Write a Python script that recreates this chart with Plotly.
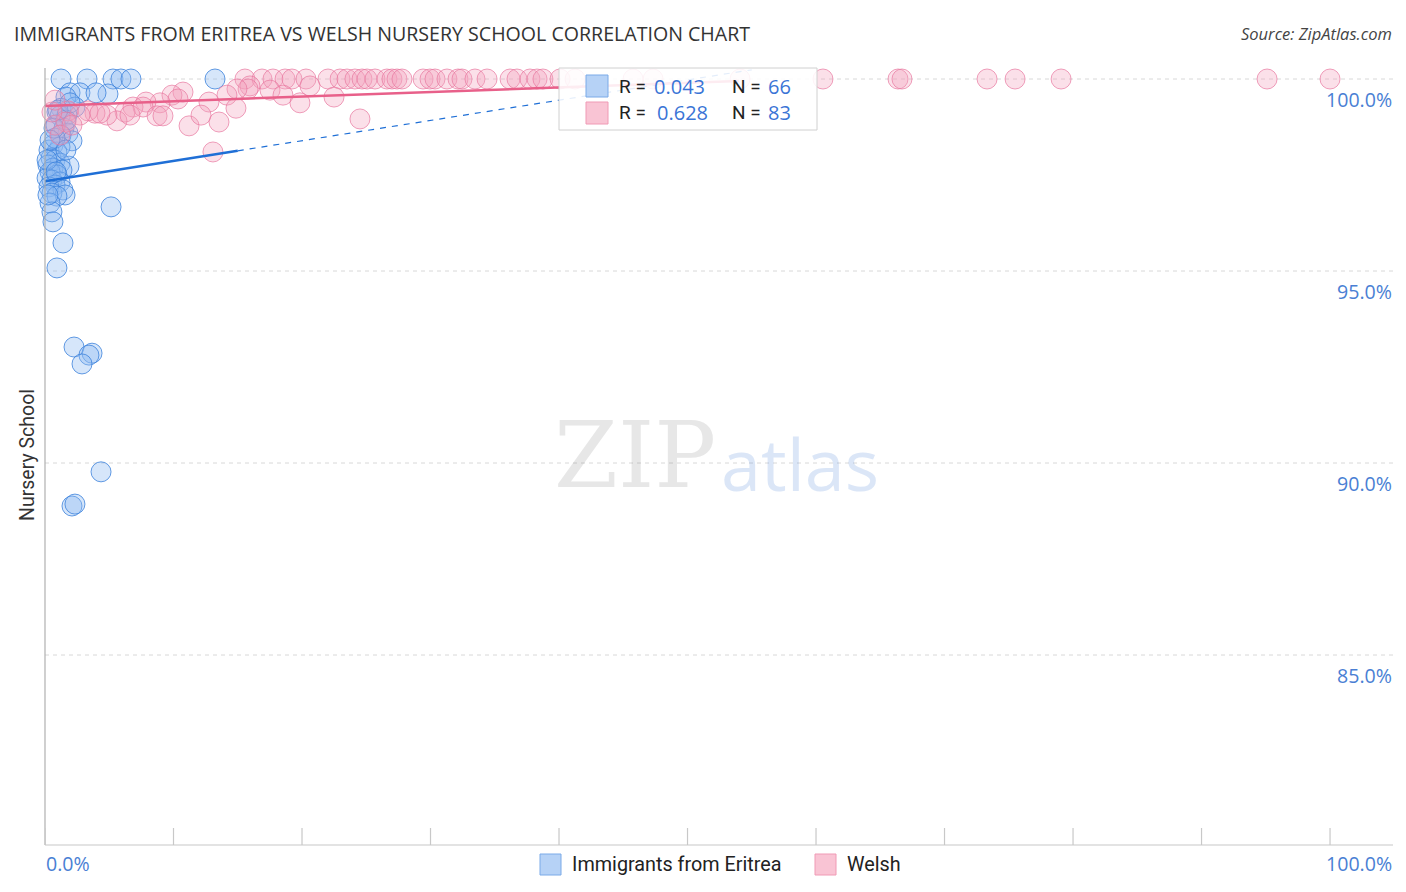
import plotly.graph_objects as go

# ---------------- data ----------------
blue_x = [1.25, 3.27, 5.29, 5.91, 6.69, 13.23, 1.95, 2.72, 1.63, 4.9, 3.97, 2.33, 1.25, 0.93, 1.17,
          1.71, 0.86, 1.48, 1.79, 1.25, 2.1, 0.62, 1.17, 0.31, 0.93, 0.47, 0.78, 1.17, 1.87, 0.23,
          0.62, 1.32, 0.39, 0.93, 0.16, 0.54, 1.17, 0.78, 0.31, 1.4, 0.54, 1.56, 0.93, 0.39, 0.54,
          0.62, 5.14, 1.4, 0.93, 2.26, 3.66, 3.42, 2.88, 4.36, 2.1, 2.33, 1.63, 1.01, 0.16, 0.78,
          0.23, 0.86, 1.95, 0.7, 0.39, 1.63]
blue_y = [100.0, 100.0, 100.0, 100.0, 100.0, 100.0, 99.64, 99.64, 99.53, 99.61, 99.64, 99.27, 99.24,
          99.14, 99.04, 99.06, 98.8, 98.72, 98.59, 98.54, 98.39, 98.28, 98.23, 98.15, 98.1, 97.94,
          97.89, 97.81, 97.73, 97.76, 97.68, 97.63, 97.58, 97.5, 97.42, 97.37, 97.32, 97.24, 97.19,
          97.11, 97.03, 96.98, 96.95, 96.77, 96.54, 96.28, 96.67, 95.73, 95.08, 93.02, 92.86, 92.81,
          92.58, 89.77, 88.88, 88.93, 98.93, 99.19, 97.89, 98.46, 96.98, 97.58, 99.38, 98.72, 98.41,
          98.15]

pink_x = [15.56, 16.89, 17.74, 18.68, 19.22, 20.31, 22.02, 22.96, 23.5, 24.12, 24.67, 25.06, 25.68,
          26.61, 27.0, 27.39, 27.78, 29.42, 29.96, 30.35, 31.28, 32.14, 32.45, 33.46, 34.4, 36.19,
          36.73, 37.74, 38.29, 38.75, 40.08, 41.25, 45.76, 47.32, 54.09, 60.54, 66.38, 66.69, 73.31,
          75.49, 79.07, 95.1, 100.0,
          15.95, 15.8, 14.94, 14.16, 17.51, 18.52, 19.84, 20.62, 22.49, 24.51, 12.76, 14.86, 10.74,
          9.88, 10.35, 8.95, 7.86, 6.85, 7.63, 6.23, 5.6, 6.61, 4.82, 3.89, 3.35, 2.72, 1.79, 1.63,
          0.78, 0.54, 4.28, 1.17, 11.21, 13.54, 13.07, 8.72, 9.18, 12.14, 0.78, 2.1]
pink_y = [100.0] * 43 + [
          99.82, 99.74, 99.74, 99.58, 99.71, 99.58, 99.38, 99.82, 99.53, 98.96, 99.4, 99.24, 99.66,
          99.58, 99.48, 99.38, 99.4, 99.27, 99.27, 99.14, 98.91, 99.06, 99.06, 99.11, 99.17, 99.06,
          99.17, 98.88, 98.8, 99.14, 99.11, 98.54, 98.78, 98.88, 98.1, 99.04, 99.04, 99.06, 99.45,
          98.8]

blue_trend_solid_x = [0.0, 15.0]
blue_trend_solid_y = [97.34, 98.13]
blue_trend_dash_x = [15.0, 55.0]
blue_trend_dash_y = [98.13, 100.24]
pink_trend_x = [0.0, 54.0]
pink_trend_y = [99.30, 99.95]

y_ticks = [100.0, 95.0, 90.0, 85.0]
y_tick_labels = ["100.0%", "95.0%", "90.0%", "85.0%"]
x_ticks = [0, 10, 20, 30, 40, 50, 60, 70, 80, 90, 100]

legend_rows = [("0.043", "66"), ("0.628", "83")]
series_names = ["Immigrants from Eritrea", "Welsh"]

# ---------------- style ----------------
W, H = 1406, 892
L, R, T, B = 45, 13, 60, 47
XR = [0, 104.9]
YR = [80.052, 100.495]

BLUE_FILL = "rgba(140,185,240,0.36)"
BLUE_EDGE = "rgba(60,130,220,0.8)"
PINK_FILL = "rgba(244,160,188,0.33)"
PINK_EDGE = "rgba(232,120,160,0.7)"
BLUE_LINE = "#1f6fd6"
PINK_LINE = "#e8608a"
TICK_BLUE = "#4a7fd4"


def px(xp):
    return (xp - L) / (W - L - R)


def py(yp):
    return 1 - (yp - T) / (H - T - B)


fig = go.Figure()

fig.add_trace(go.Scatter(x=blue_x, y=blue_y, mode="markers", name=series_names[0],
                         marker=dict(size=20, color=BLUE_FILL, line=dict(color=BLUE_EDGE, width=1)),
                         showlegend=False, cliponaxis=False))
fig.add_trace(go.Scatter(x=pink_x, y=pink_y, mode="markers", name=series_names[1],
                         marker=dict(size=20, color=PINK_FILL, line=dict(color=PINK_EDGE, width=1)),
                         showlegend=False, cliponaxis=False))

fig.add_trace(go.Scatter(x=blue_trend_solid_x, y=blue_trend_solid_y, mode="lines",
                         line=dict(color=BLUE_LINE, width=2.5), showlegend=False))
fig.add_trace(go.Scatter(x=blue_trend_dash_x, y=blue_trend_dash_y, mode="lines",
                         line=dict(color=BLUE_LINE, width=1.2, dash="6px,6px"), showlegend=False))
fig.add_trace(go.Scatter(x=pink_trend_x, y=pink_trend_y, mode="lines",
                         line=dict(color=PINK_LINE, width=2.5), showlegend=False))

shapes = []
for yv in y_ticks:
    shapes.append(dict(type="line", xref="paper", yref="y", x0=0, x1=1, y0=yv, y1=yv,
                       line=dict(color="#d8d8d8", width=1, dash="4px,4px"), layer="below"))
shapes.append(dict(type="line", xref="paper", yref="paper", x0=0, x1=0, y0=0, y1=py(68),
                   line=dict(color="#b0b0b0", width=1.2)))
shapes.append(dict(type="line", xref="paper", yref="paper", x0=0, x1=1, y0=0, y1=0,
                   line=dict(color="#c8c8c8", width=1.2)))
for xv in x_ticks:
    shapes.append(dict(type="line", xref="x", yref="paper", x0=xv, x1=xv, y0=0, y1=py(828),
                       line=dict(color="#c8c8c8", width=1.2)))

shapes.append(dict(type="rect", xref="paper", yref="paper", x0=px(559), x1=px(817), y0=py(130), y1=py(68),
                   fillcolor="rgba(255,255,255,0.88)", line=dict(color="#d0d0d0", width=1)))
sq_fill = ["#b6d2f6", "#f9c4d4"]
sq_edge = ["#7aaae8", "#f09ab5"]
row_y = [86, 113]
for i in range(2):
    shapes.append(dict(type="rect", xref="paper", yref="paper", x0=px(586), x1=px(608),
                       y0=py(row_y[i] + 11), y1=py(row_y[i] - 11),
                       fillcolor=sq_fill[i], line=dict(color=sq_edge[i], width=1)))
shapes.append(dict(type="rect", xref="paper", yref="paper", x0=px(540), x1=px(561), y0=py(875), y1=py(854),
                   fillcolor=sq_fill[0], line=dict(color=sq_edge[0], width=1)))
shapes.append(dict(type="rect", xref="paper", yref="paper", x0=px(815), x1=px(836), y0=py(875), y1=py(854),
                   fillcolor=sq_fill[1], line=dict(color=sq_edge[1], width=1)))

ann = []
FONT = "Roboto"
TFONT = "Open Sans"
ann.append(dict(text="IMMIGRANTS FROM ERITREA VS WELSH NURSERY SCHOOL CORRELATION CHART",
                xref="paper", yref="paper", x=px(12), y=py(33), xanchor="left", yanchor="middle",
                showarrow=False, font=dict(family=TFONT, size=19.6, color="#333333")))
ann.append(dict(text="<i>Source: ZipAtlas.com</i>", xref="paper", yref="paper", x=px(1394), y=py(33),
                xanchor="right", yanchor="middle", showarrow=False,
                font=dict(family=TFONT, size=16.5, color="#444444")))
ann.append(dict(text="Nursery School", xref="paper", yref="paper", x=px(27), y=py(455), textangle=-90,
                xanchor="center", yanchor="middle", showarrow=False,
                font=dict(family=FONT, size=19.5, color="#333333")))
for yv, lab in zip(y_ticks, y_tick_labels):
    ann.append(dict(text=lab, xref="paper", yref="y", x=px(1394), y=yv, xanchor="right", yanchor="top",
                    yshift=-5, showarrow=False, font=dict(family=TFONT, size=19.6, color=TICK_BLUE)))
ann.append(dict(text="0.0%", xref="paper", yref="paper", x=px(44), y=py(863), xanchor="left",
                yanchor="middle", showarrow=False, font=dict(family=TFONT, size=19.6, color=TICK_BLUE)))
ann.append(dict(text="100.0%", xref="paper", yref="paper", x=px(1394), y=py(863), xanchor="right",
                yanchor="middle", showarrow=False, font=dict(family=TFONT, size=19.6, color=TICK_BLUE)))
for i, (rv, nv) in enumerate(legend_rows):
    ann.append(dict(text="R = ", xref="paper", yref="paper", x=px(617), y=py(row_y[i]), xanchor="left",
                    yanchor="middle", showarrow=False, font=dict(family=FONT, size=19, color="#222222")))
    ann.append(dict(text=rv, xref="paper", yref="paper", x=px(652 if i == 0 else 655), y=py(row_y[i]),
                    xanchor="left", yanchor="middle", showarrow=False,
                    font=dict(family=TFONT, size=20, color="#3a74d6")))
    ann.append(dict(text="N = ", xref="paper", yref="paper", x=px(730), y=py(row_y[i]), xanchor="left",
                    yanchor="middle", showarrow=False, font=dict(family=FONT, size=19, color="#222222")))
    ann.append(dict(text=nv, xref="paper", yref="paper", x=px(766), y=py(row_y[i]), xanchor="left",
                    yanchor="middle", showarrow=False, font=dict(family=TFONT, size=20, color="#3a74d6")))
ann.append(dict(text=series_names[0], xref="paper", yref="paper", x=px(570), y=py(864), xanchor="left",
                yanchor="middle", showarrow=False, font=dict(family=FONT, size=19.8, color="#222222")))
ann.append(dict(text=series_names[1], xref="paper", yref="paper", x=px(845), y=py(864), xanchor="left",
                yanchor="middle", showarrow=False, font=dict(family=FONT, size=19.8, color="#222222")))
ann.append(dict(text="ZIP", xref="paper", yref="paper", x=px(635), y=py(455), xanchor="center",
                yanchor="middle", showarrow=False,
                font=dict(family="DejaVu Serif", size=92, color="rgba(120,120,120,0.18)")))
ann.append(dict(text="atlas", xref="paper", yref="paper", x=px(800), y=py(463), xanchor="center",
                yanchor="middle", showarrow=False,
                font=dict(family="Open Sans", size=72, color="rgba(90,140,220,0.22)")))

fig.update_layout(
    width=W, height=H,
    margin=dict(l=L, r=R, t=T, b=B),
    paper_bgcolor="white", plot_bgcolor="white",
    xaxis=dict(range=XR, showgrid=False, zeroline=False, showticklabels=False, ticks="",
               showline=False, fixedrange=True),
    yaxis=dict(range=YR, showgrid=False, zeroline=False, showticklabels=False, ticks="",
               showline=False, fixedrange=True),
    shapes=shapes, annotations=ann, showlegend=False,
)

fig.write_html("out.html", config={"displayModeBar": False},
               post_script="document.body.style.margin='0';document.body.style.overflow='hidden';")
